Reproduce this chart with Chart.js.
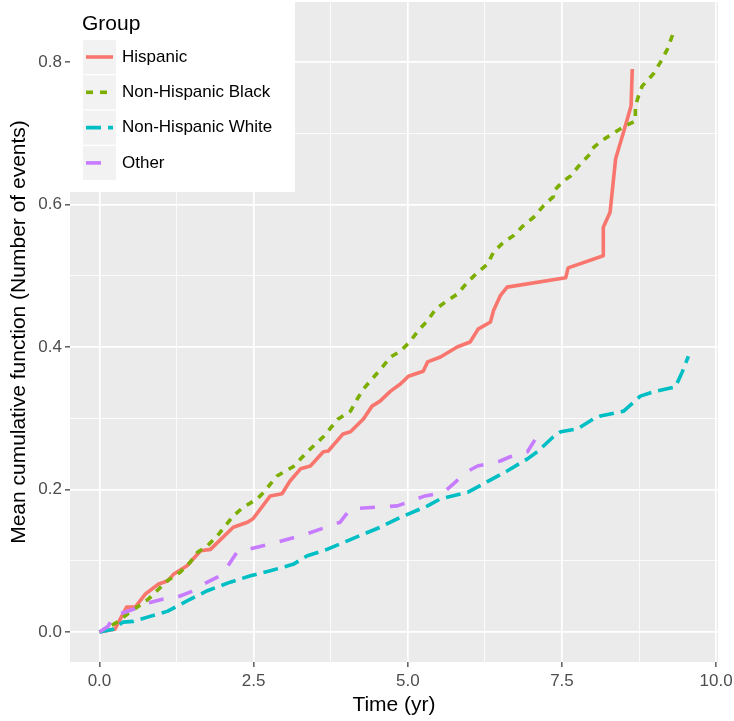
<!DOCTYPE html>
<html>
<head>
<meta charset="utf-8">
<script src="https://cdn.jsdelivr.net/npm/chart.js@4.4.1/dist/chart.umd.min.js"></script>
<style>
  body { margin: 0; background: #ffffff; }
  #wrap { width: 734px; height: 721px; }
</style>
</head>
<body>
<div id="wrap"><canvas id="mcfChart" width="734" height="721"></canvas></div>
<script>
// Group names and colours (ggplot default hue palette)
const groups = ['Hispanic', 'Non-Hispanic Black', 'Non-Hispanic White', 'Other'];
const groupColors = ['#F8766D', '#7CAE00', '#00BFC4', '#C77CFF'];
const groupDashes = [[], [7, 7], [15, 7], [15, 15]];

// Time (yr) and mean cumulative function
const hispanicTime = [0, 0.25, 0.44, 0.58, 0.74, 0.95, 1.11, 1.20, 1.42, 1.64, 1.80, 2.17, 2.40, 2.49, 2.77, 2.96, 3.09, 3.26, 3.42, 3.63, 3.71, 3.95, 4.07, 4.28, 4.42, 4.55, 4.72, 4.88, 5.01, 5.25, 5.32, 5.53, 5.80, 6.01, 6.14, 6.34, 6.39, 6.50, 6.61, 7.56, 7.60, 8.17, 8.17, 8.28, 8.37, 8.50, 8.62, 8.64];
const hispanicMcf = [0, 0.004, 0.035, 0.035, 0.053, 0.067, 0.072, 0.081, 0.093, 0.114, 0.116, 0.147, 0.154, 0.159, 0.191, 0.194, 0.212, 0.229, 0.233, 0.253, 0.254, 0.278, 0.281, 0.299, 0.317, 0.324, 0.338, 0.348, 0.359, 0.366, 0.379, 0.386, 0.400, 0.407, 0.425, 0.435, 0.451, 0.472, 0.484, 0.497, 0.511, 0.528, 0.568, 0.589, 0.664, 0.702, 0.738, 0.790];

const blackTime = [0, 0.29, 0.45, 0.79, 1.10, 1.31, 1.47, 1.59, 1.75, 1.91, 2.17, 2.33, 2.56, 2.66, 2.88, 3.14, 3.42, 3.63, 3.87, 4.07, 4.18, 4.28, 4.59, 4.72, 4.88, 5.04, 5.17, 5.32, 5.45, 5.64, 5.80, 5.97, 6.10, 6.29, 6.39, 6.55, 6.71, 6.87, 7.04, 7.20, 7.36, 7.36, 7.51, 7.64, 7.80, 7.96, 7.99, 8.12, 8.32, 8.50, 8.69, 8.69, 8.74, 8.80, 8.98, 9.10, 9.21, 9.31];
const blackMcf = [0, 0.014, 0.025, 0.046, 0.072, 0.084, 0.098, 0.112, 0.121, 0.135, 0.163, 0.175, 0.187, 0.196, 0.219, 0.232, 0.257, 0.274, 0.299, 0.310, 0.327, 0.341, 0.372, 0.386, 0.394, 0.408, 0.423, 0.437, 0.453, 0.465, 0.474, 0.491, 0.502, 0.516, 0.533, 0.547, 0.556, 0.570, 0.582, 0.598, 0.611, 0.618, 0.632, 0.640, 0.657, 0.671, 0.678, 0.688, 0.699, 0.709, 0.717, 0.737, 0.752, 0.766, 0.783, 0.800, 0.818, 0.842];

const whiteTime = [0, 0.22, 0.38, 0.55, 0.82, 1.10, 1.47, 1.75, 2.12, 2.45, 2.77, 3.14, 3.37, 3.69, 4.02, 4.55, 4.88, 5.32, 5.53, 5.97, 6.29, 6.61, 6.94, 7.10, 7.36, 7.48, 7.75, 8.01, 8.12, 8.50, 8.77, 8.98, 9.34, 9.45, 9.55];
const whiteMcf = [0, 0.004, 0.014, 0.015, 0.022, 0.029, 0.046, 0.058, 0.070, 0.079, 0.086, 0.095, 0.107, 0.116, 0.128, 0.147, 0.161, 0.177, 0.187, 0.196, 0.211, 0.226, 0.243, 0.253, 0.274, 0.281, 0.285, 0.299, 0.303, 0.310, 0.331, 0.337, 0.344, 0.365, 0.387];

const otherTime = [0, 0.14, 0.22, 0.55, 0.71, 1.02, 1.23, 1.47, 1.68, 1.96, 2.07, 2.23, 2.88, 3.37, 3.90, 4.07, 4.83, 5.28, 5.58, 5.74, 5.96, 6.13, 6.50, 6.66, 6.94, 7.07];
const otherMcf = [0, 0.008, 0.022, 0.032, 0.039, 0.046, 0.048, 0.056, 0.067, 0.079, 0.091, 0.112, 0.126, 0.138, 0.154, 0.173, 0.177, 0.191, 0.196, 0.208, 0.225, 0.233, 0.240, 0.246, 0.253, 0.271];

const seriesTime = [hispanicTime, blackTime, whiteTime, otherTime];
const seriesMcf = [hispanicMcf, blackMcf, whiteMcf, otherMcf];

// Axis ticks: major ticks get labels, minor ones only a thin grid line
const xMajorStep = 2.5;
const yMajorStep = 0.2;

function isMajor(v, step) {
    return Math.abs(v / step - Math.round(v / step)) < 1e-6;
}

const datasets = groups.map((name, i) => ({
    label: name,
    data: seriesTime[i].map((t, j) => ({ x: t, y: seriesMcf[i][j] })),
    borderColor: groupColors[i],
    borderWidth: 3.6,
    borderDash: groupDashes[i],
    borderJoinStyle: 'round',
    pointRadius: 0,
    tension: 0,
    fill: false,
    order: 4 - i
}));

// Grey panel behind the grid
const panelBackground = {
    id: 'panelBackground',
    beforeDraw(chart) {
        const { ctx, chartArea } = chart;
        ctx.save();
        ctx.fillStyle = '#EBEBEB';
        ctx.fillRect(chartArea.left, chartArea.top, chartArea.right - chartArea.left, chartArea.bottom - chartArea.top);
        ctx.restore();
    }
};

// ggplot-style legend inside the top-left of the panel
const groupLegend = {
    id: 'groupLegend',
    afterDraw(chart) {
        const ctx = chart.ctx;
        ctx.save();
        ctx.fillStyle = '#ffffff';
        ctx.fillRect(70, 0, 225, 192);

        ctx.fillStyle = '#000000';
        ctx.font = '21px "Liberation Sans", Arial, sans-serif';
        ctx.textBaseline = 'middle';
        ctx.textAlign = 'left';
        ctx.fillText('Group', 82, 24);

        groups.forEach((name, i) => {
            const top = 40 + i * 35.3;
            ctx.fillStyle = '#F2F2F2';
            ctx.fillRect(83, top, 33, 34);
            ctx.strokeStyle = groupColors[i];
            ctx.lineWidth = 3.6;
            ctx.setLineDash(groupDashes[i]);
            ctx.beginPath();
            ctx.moveTo(86, top + 17);
            ctx.lineTo(113, top + 17);
            ctx.stroke();
            ctx.setLineDash([]);
            ctx.fillStyle = '#000000';
            ctx.font = '17px "Liberation Sans", Arial, sans-serif';
            ctx.fillText(name, 122, top + 17);
        });
        ctx.restore();
    }
};

const tickFont = { family: '"Liberation Sans", Arial, sans-serif', size: 17 };
const titleFont = { family: '"Liberation Sans", Arial, sans-serif', size: 21 };

const mcfChart = new Chart(document.getElementById('mcfChart'), {
    type: 'line',
    data: { datasets: datasets },
    options: {
        responsive: false,
        animation: false,
        devicePixelRatio: 1,
        layout: { padding: { top: 2, right: 16, left: 0, bottom: 0 } },
        plugins: {
            legend: { display: false },
            tooltip: { enabled: false }
        },
        scales: {
            x: {
                type: 'linear',
                min: -0.478,
                max: 10.03,
                afterFit(scale) {
                    scale.height = 59;
                    scale.paddingLeft = 0;
                    scale.paddingRight = 0;
                },
                border: { display: false },
                grid: {
                    color: '#ffffff',
                    lineWidth: ctx => isMajor(ctx.tick.value, xMajorStep) ? 1.7 : 0.8,
                    tickColor: ctx => isMajor(ctx.tick.value, xMajorStep) ? '#333333' : 'rgba(0,0,0,0)',
                    tickLength: 5,
                    tickWidth: 1.2
                },
                ticks: {
                    stepSize: 1.25,
                    includeBounds: false,
                    autoSkip: false,
                    maxRotation: 0,
                    padding: 4,
                    color: '#4D4D4D',
                    font: tickFont,
                    callback: v => isMajor(v, xMajorStep) ? v.toFixed(1) : ''
                },
                title: {
                    display: true,
                    text: 'Time (yr)',
                    color: '#000000',
                    font: titleFont,
                    padding: { top: 0, bottom: 3 }
                }
            },
            y: {
                type: 'linear',
                min: -0.042,
                max: 0.884,
                afterFit(scale) {
                    scale.width = 70;
                    scale.paddingTop = 0;
                    scale.paddingBottom = 0;
                },
                border: { display: false },
                grid: {
                    color: '#ffffff',
                    lineWidth: ctx => isMajor(ctx.tick.value, yMajorStep) ? 1.7 : 0.8,
                    tickColor: ctx => isMajor(ctx.tick.value, yMajorStep) ? '#333333' : 'rgba(0,0,0,0)',
                    tickLength: 5,
                    tickWidth: 1.2
                },
                ticks: {
                    stepSize: 0.1,
                    includeBounds: false,
                    autoSkip: false,
                    padding: 3,
                    color: '#4D4D4D',
                    font: tickFont,
                    callback: v => isMajor(v, yMajorStep) ? v.toFixed(1) : ''
                },
                title: {
                    display: true,
                    text: 'Mean cumulative function (Number of events)',
                    color: '#000000',
                    font: titleFont,
                    padding: { top: 7, bottom: 0 }
                }
            }
        }
    },
    plugins: [panelBackground, groupLegend]
});
</script>
</body>
</html>
